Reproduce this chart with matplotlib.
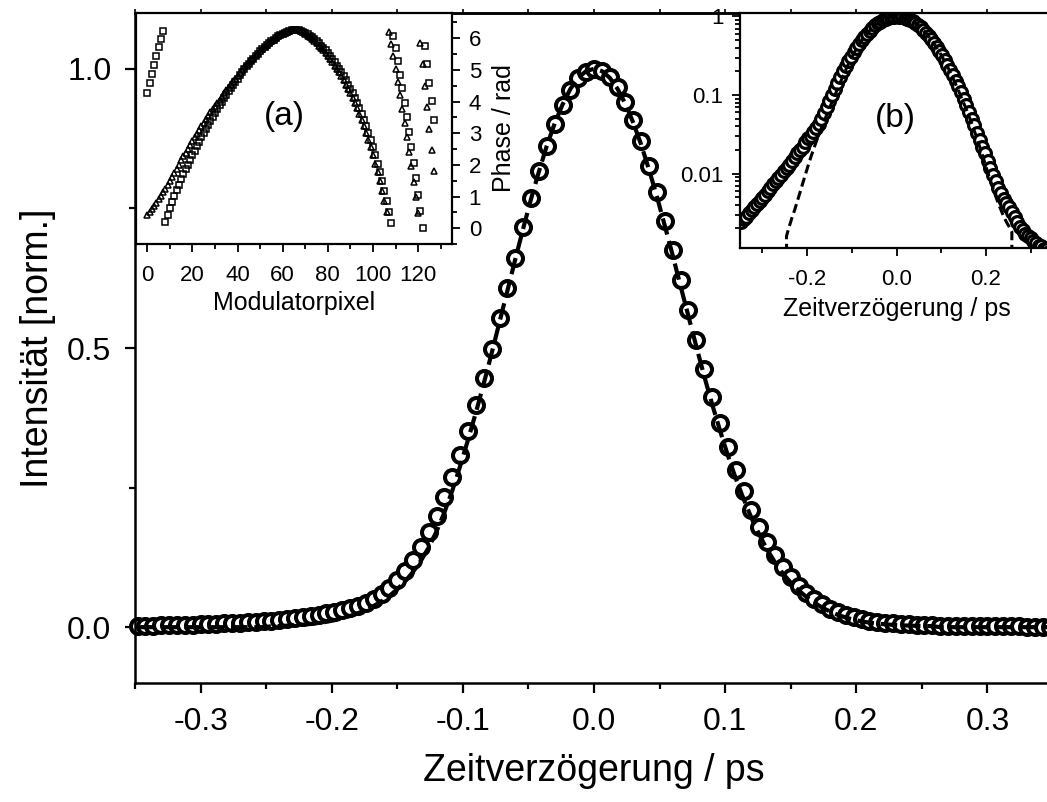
import numpy as np
import matplotlib
matplotlib.use("Agg")
import matplotlib.pyplot as plt
from matplotlib.ticker import MultipleLocator, FixedLocator, LogLocator, NullFormatter, FixedFormatter

plt.rcParams['font.family'] = ['Liberation Sans', 'DejaVu Sans']
plt.rcParams['axes.unicode_minus'] = False

# ---------------------------------------------------------------------------
# Autocorrelation scan: delay grid (ps), measured trace and fitted pulse
# ---------------------------------------------------------------------------
delay_start, delay_step, n_delay = -0.348, 0.006, 117
delay = np.round(delay_start + delay_step * np.arange(n_delay), 3)

intensity_measured = [
    0.0024, 0.0026, 0.0028, 0.0031, 0.0034, 0.0037, 0.0041, 0.0045, 0.0049, 0.0054,
    0.0060, 0.0066, 0.0073, 0.0080, 0.0088, 0.0097, 0.0107, 0.0118, 0.0130, 0.0145,
    0.0160, 0.0180, 0.0200, 0.0220, 0.0250, 0.0280, 0.0300, 0.0340, 0.0380, 0.0430,
    0.0500, 0.0590, 0.0700, 0.0850, 0.1010, 0.1200, 0.1430, 0.1700, 0.2000, 0.2330,
    0.2690, 0.3080, 0.3520, 0.3980, 0.4470, 0.4990, 0.5530, 0.6070, 0.6620, 0.7160,
    0.7680, 0.8170, 0.8620, 0.9020, 0.9350, 0.9620, 0.9830, 0.9950,
    1.0000,
    0.9970, 0.9860, 0.9670, 0.9410, 0.9080, 0.8700, 0.8260, 0.7790, 0.7280, 0.6760,
    0.6220, 0.5680, 0.5150, 0.4630, 0.4130, 0.3660, 0.3220, 0.2810, 0.2440, 0.2100,
    0.1800, 0.1530, 0.1290, 0.1080, 0.0900, 0.0740, 0.0610, 0.0500, 0.0410, 0.0330,
    0.0270, 0.0220, 0.0180, 0.0145, 0.0118, 0.0096, 0.0080, 0.0066, 0.0056, 0.0048,
    0.0042, 0.0037, 0.0032, 0.0028, 0.0024, 0.0021, 0.0019, 0.0017, 0.0016, 0.0015,
    0.0014, 0.0013, 0.0012, 0.0012, 0.0011, 0.0011, 0.0010, 0.0010,
]

intensity_fit = [
    0, 0, 0, 0, 0, 0, 0, 0, 0, 0, 0, 0, 0, 0, 0, 0, 0,
    0.0016, 0.0021, 0.0027, 0.0034, 0.0044, 0.0057, 0.0074, 0.0096, 0.0124, 0.0159,
    0.0200, 0.0250, 0.0310, 0.0380, 0.0460, 0.0560, 0.0680, 0.0820, 0.0990, 0.1190,
    0.1430, 0.1720, 0.2060, 0.2450, 0.2890, 0.3360, 0.3850, 0.4370, 0.4910, 0.5470,
    0.6030, 0.6590, 0.7140, 0.7670, 0.8160, 0.8620, 0.9020, 0.9360, 0.9640, 0.9840,
    0.9960,
    1.0000,
    0.9960, 0.9840, 0.9640, 0.9370, 0.9030, 0.8640, 0.8190, 0.7710, 0.7190, 0.6660,
    0.6110, 0.5570, 0.5030, 0.4500, 0.4000, 0.3530, 0.3080, 0.2670, 0.2300, 0.1960,
    0.1660, 0.1390, 0.1160, 0.0960, 0.0800, 0.0660, 0.0540, 0.0440, 0.0350, 0.0280,
    0.0220, 0.0172, 0.0134, 0.0104, 0.0081, 0.0064, 0.0051, 0.0041, 0.0034, 0.0028,
    0.0024, 0.0021, 0.0018,
    0, 0, 0, 0, 0, 0, 0, 0, 0, 0, 0, 0, 0, 0, 0,
]

# ---------------------------------------------------------------------------
# Spectral phase on the 128 modulator pixels (wrapped to 0..2pi)
# ---------------------------------------------------------------------------
pixel = np.arange(128)

phase_squares = [
    4.27, 4.58, 4.88, 5.17, 5.45, 5.72, 5.98, 6.23,
    0.20, 0.42, 0.63, 0.83, 1.02, 1.20, 1.38, 1.55, 1.71, 1.86, 2.01, 2.16, 2.31,
    2.45, 2.59, 2.73, 2.87, 3.01, 3.14, 3.27, 3.40, 3.52, 3.64, 3.76, 3.88, 3.99, 4.10,
    4.21, 4.32, 4.43, 4.53, 4.63, 4.73,
    4.83, 4.93, 5.02, 5.11, 5.20, 5.28, 5.36, 5.44, 5.52, 5.59, 5.66, 5.73, 5.79, 5.85,
    5.91, 5.96, 6.01, 6.06, 6.10, 6.14,
    6.18, 6.21, 6.24, 6.26, 6.27, 6.27, 6.26, 6.24, 6.21, 6.17, 6.13, 6.08, 6.03, 5.97,
    5.91, 5.84, 5.77, 5.70, 5.62, 5.54,
    5.45, 5.35, 5.25, 5.14, 5.03, 4.92, 4.80, 4.67, 4.54, 4.40, 4.26, 4.11, 3.96, 3.79,
    3.61, 3.42, 3.22, 3.01, 2.79, 2.55,
    2.30, 2.04, 1.77, 1.48, 1.18, 0.86, 0.52, 0.16, 6.08, 5.68, 5.27, 4.85, 4.42, 3.97,
    3.51, 3.04, 2.56, 2.07, 1.57, 1.06,
    0.54, 0.02, 5.75, 5.18, 4.60, 4.01, 3.41,
]

phase_triangles = [
    0.41, 0.50, 0.60, 0.70, 0.80, 0.91, 1.02, 1.13, 1.25, 1.37, 1.49, 1.62, 1.75, 1.88,
    2.01, 2.14, 2.27, 2.39, 2.51, 2.63, 2.75,
    2.87, 2.99, 3.11, 3.22, 3.33, 3.44, 3.55, 3.66, 3.76, 3.86, 3.96, 4.06, 4.16, 4.26,
    4.36, 4.46, 4.55, 4.64, 4.73, 4.82,
    4.91, 5.00, 5.08, 5.16, 5.24, 5.32, 5.39, 5.46, 5.53, 5.60, 5.67, 5.73, 5.79, 5.85,
    5.91, 5.96, 6.01, 6.06, 6.10, 6.14,
    6.18, 6.21, 6.24, 6.26, 6.27, 6.26, 6.25, 6.23, 6.20,
    6.13, 6.08, 6.03, 5.97, 5.91, 5.84, 5.77, 5.70, 5.62, 5.54, 5.45, 5.35, 5.25, 5.14,
    5.03, 4.92, 4.80, 4.67, 4.54, 4.40, 4.26, 4.11, 3.96, 3.79, 3.61, 3.42, 3.22, 3.01,
    2.79, 2.55, 2.30, 2.04, 1.77, 1.48, 1.18, 0.86, 0.52,
    6.20, 5.82, 5.43, 5.03, 4.62, 4.20, 3.77, 3.33, 2.88, 2.42, 1.95, 1.47, 0.98, 0.48,
    5.85, 5.18, 4.50, 3.82, 3.14, 2.46, 1.80,
]

assert len(intensity_measured) == n_delay and len(intensity_fit) == n_delay
assert len(phase_squares) == 128 and len(phase_triangles) == 128

delay_ticks = [-0.3, -0.2, -0.1, 0.0, 0.1, 0.2, 0.3]
delay_tick_labels = ['-0.3', '-0.2', '-0.1', '0.0', '0.1', '0.2', '0.3']
intensity_ticks = [0.0, 0.5, 1.0]
intensity_tick_labels = ['0.0', '0.5', '1.0']

W, H = 1047, 802
fig = plt.figure(figsize=(W / 100, H / 100), dpi=100)


def frac(x0, y0, x1, y1):
    """pixel box (left, top, right, bottom) -> figure fraction rect"""
    return [x0 / W, 1 - y1 / H, (x1 - x0) / W, (y1 - y0) / H]


# ---------------------------- main panel ----------------------------------
ax = fig.add_axes(frac(135, 13, 1053, 683))
ax.plot(delay, intensity_measured, 'o', ms=10.8, mfc='white', mec='black', mew=2.9,
        zorder=2, clip_on=False)
ax.plot(delay, intensity_fit, color='black', lw=3.0, ls=(0, (4, 1.6)), zorder=3)
ax.set_xlim(-0.35, 0.35)
ax.set_ylim(-0.1, 1.1)
ax.xaxis.set_major_locator(FixedLocator(delay_ticks))
ax.xaxis.set_major_formatter(FixedFormatter(delay_tick_labels))
ax.xaxis.set_minor_locator(MultipleLocator(0.05))
ax.yaxis.set_major_locator(FixedLocator(intensity_ticks))
ax.yaxis.set_major_formatter(FixedFormatter(intensity_tick_labels))
ax.yaxis.set_minor_locator(MultipleLocator(0.25))
ax.tick_params(which='both', direction='out', width=1.6, labelsize=23, pad=10)
ax.tick_params(which='major', length=7)
ax.tick_params(which='minor', length=4.5)
for s in ax.spines.values():
    s.set_linewidth(1.8)
top = ax.secondary_xaxis('top')
top.xaxis.set_major_locator(MultipleLocator(0.05))
top.tick_params(direction='out', length=3, width=1.2, labeltop=False)
top.spines['top'].set_linewidth(1.8)
ax.set_xlabel('Zeitverzögerung / ps', fontsize=27, labelpad=12)
ax.set_ylabel('Intensität [norm.]', fontsize=27, labelpad=8)

# ---------------------------- inset (a): phase ----------------------------
axa = fig.add_axes(frac(136, 13, 452, 244))
axa.set_facecolor('white')
axa.plot(pixel, phase_squares, 's', ms=4.3, mfc='none', mec='black', mew=1.1)
axa.plot(pixel, phase_triangles, '^', ms=4.6, mfc='none', mec='black', mew=1.1)
axa.set_xlim(-5, 135)
axa.set_ylim(-0.5, 6.8)
axa.xaxis.set_major_locator(MultipleLocator(20))
axa.xaxis.set_minor_locator(MultipleLocator(10))
axa.yaxis.tick_right()
axa.yaxis.set_label_position('right')
axa.yaxis.set_major_locator(MultipleLocator(1))
axa.yaxis.set_minor_locator(MultipleLocator(0.5))
axa.tick_params(which='both', direction='out', width=1.3, labelsize=16, pad=9)
axa.tick_params(axis='y', pad=6)
axa.tick_params(which='major', length=6)
axa.tick_params(which='minor', length=3.5)
for s in axa.spines.values():
    s.set_linewidth(1.6)
axa.set_xlabel('Modulatorpixel', fontsize=18, labelpad=4)
axa.set_ylabel('Phase / rad', fontsize=18, labelpad=8)
axa.text(0.468, 0.55, '(a)', transform=axa.transAxes, fontsize=24,
         ha='center', va='center')

# ---------------------------- inset (b): log scale ------------------------
axb = fig.add_axes(frac(740, 13, 1053, 248))
axb.set_facecolor('white')
axb.plot(delay, intensity_measured, 'o', ms=8.5, mfc='white', mec='black', mew=2.3,
         zorder=2)
axb.plot(delay, intensity_fit, color='black', lw=2.2, ls=(0, (3, 1.5)), zorder=3)
axb.set_yscale('log')
axb.set_xlim(-0.35, 0.35)
axb.set_ylim(0.001125, 1.108)
axb.xaxis.set_major_locator(FixedLocator([-0.2, 0.0, 0.2]))
axb.xaxis.set_major_formatter(FixedFormatter(['-0.2', '0.0', '0.2']))
axb.xaxis.set_minor_locator(FixedLocator([-0.3, -0.1, 0.1, 0.3]))
axb.yaxis.set_major_locator(FixedLocator([0.01, 0.1, 1.0]))
axb.yaxis.set_major_formatter(FixedFormatter(['0.01', '0.1', '1']))
axb.yaxis.set_minor_locator(LogLocator(base=10, subs=np.arange(2, 10)))
axb.yaxis.set_minor_formatter(NullFormatter())
axb.tick_params(which='both', direction='out', width=1.3, labelsize=16, pad=9)
axb.tick_params(axis='y', pad=6)
axb.tick_params(which='major', length=6)
axb.tick_params(which='minor', length=3.5)
for s in axb.spines.values():
    s.set_linewidth(1.6)
axb.set_xlabel('Zeitverzögerung / ps', fontsize=18, labelpad=5)
axb.text(0.495, 0.553, '(b)', transform=axb.transAxes, fontsize=24,
         ha='center', va='center')

fig.savefig('out.png', dpi=100, facecolor='white')
